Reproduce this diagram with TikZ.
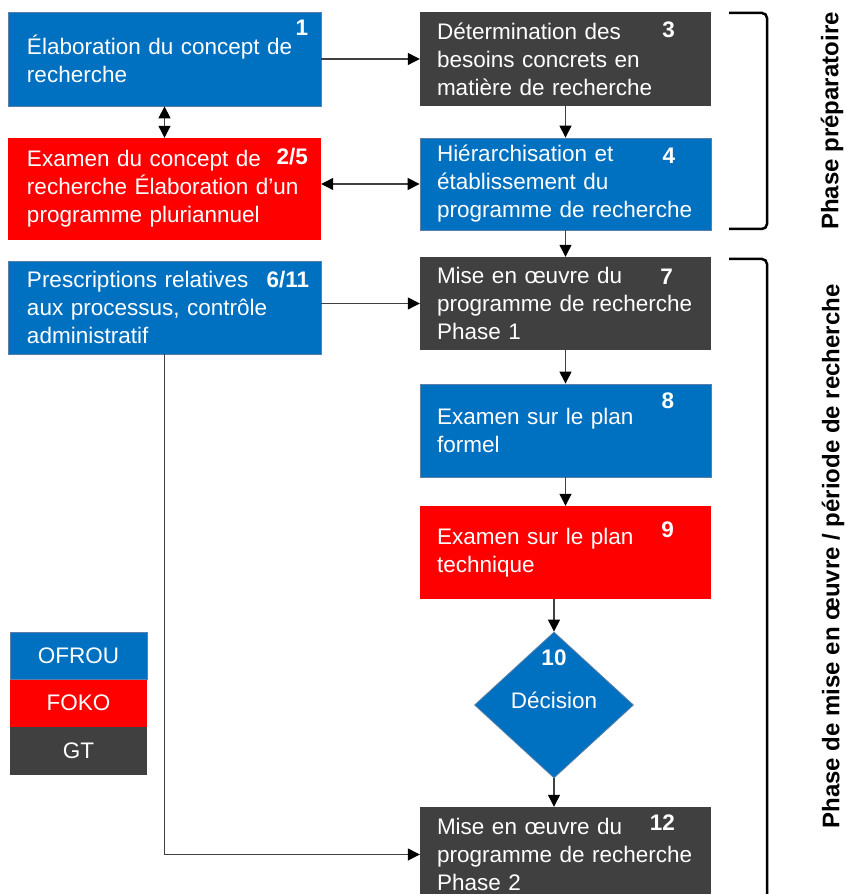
\documentclass[tikz,border=0pt]{standalone}
\usepackage{fontspec}
\setmainfont{Liberation Sans}
\usetikzlibrary{arrows.meta,shapes.geometric}
\definecolor{ofrou}{HTML}{0070C0}
\definecolor{foko}{HTML}{FF0000}
\definecolor{gt}{HTML}{404040}
\definecolor{bordure}{HTML}{5B7FA8}
\newcommand\boxfont{\fontsize{22.5}{28}\selectfont}
\tikzset{
   lbox/.style={rectangle, text width=275pt, inner xsep=19pt, inner ysep=0pt, align=left, text=white, font=\boxfont},
   rbox/.style={rectangle, text width=257pt, inner xsep=17pt, inner ysep=0pt, align=left, text=white, font=\boxfont},
   bleu/.style={fill=ofrou, draw=bordure, line width=0.8pt},
   rouge/.style={fill=foko},
   gris/.style={fill=gt},
   num/.style={inner sep=0pt, anchor=north east, text=white, font=\boxfont\bfseries},
   pointe/.tip={Triangle[length=12pt,width=12pt,color=black]},
   conn/.style={draw=black!75, line width=1.2pt, -pointe},
   conn2/.style={draw=black!75, line width=1.2pt, pointe-pointe},
   legende/.style={rectangle, minimum width=137pt, minimum height=47pt, inner sep=0pt, text=white, font=\boxfont},
   crochet/.style={line width=2.5pt, rounded corners=5pt},
   phase/.style={rotate=90, inner sep=0pt, font=\fontsize{24}{28}\selectfont\bfseries}
}
\begin{document}
\begin{tikzpicture}[x=1pt,y=1pt]
   \useasboundingbox (0,0) rectangle (846,894);
   \clip (0,0) rectangle (846,894);

   \node[lbox, bleu, minimum height=94pt] (b1) at (164.5,835) {Élaboration du concept de\\recherche};
   \node[rbox, gris, minimum height=94pt] (b3) at (565.5,835) {Détermination des\\besoins concrets en\\matière de recherche};
   \node[lbox, rouge, minimum height=102pt] (b25) at (164.5,705) {Examen du concept de\\recherche Élaboration d’un\\programme pluriannuel};
   \node[rbox, bleu, minimum height=92pt] (b4) at (565.5,710) {Hiérarchisation et\\établissement du\\programme de recherche};
   \node[lbox, bleu, minimum height=93pt] (b611) at (164.5,586.5) {Prescriptions relatives\\aux processus, contrôle\\administratif};
   \node[rbox, gris, minimum height=93pt] (b7) at (565.5,590.5) {Mise en œuvre du\\programme de recherche\\Phase 1};
   \node[rbox, bleu, minimum height=93pt] (b8) at (565.5,463.5) {Examen sur le plan\\formel};
   \node[rbox, rouge, minimum height=93pt] (b9) at (565.5,341.5) {Examen sur le plan\\technique};
   \node[diamond, bleu, minimum width=159pt, minimum height=146pt, inner sep=0pt] (dec) at (554,189) {};
   \node[text=white, font=\boxfont] (dect) at ([yshift=5pt]dec.center) {Décision};
   \node[rbox, gris, minimum height=95pt] (b12) at (565.5,39.5) {Mise en œuvre du\\programme de recherche\\Phase 2};

   \node[num] (n1) at ([shift={(-13,-8)}]b1.north east) {1};
   \node[num] (n25) at ([shift={(-13,-10)}]b25.north east) {2/5};
   \node[num] (n611) at ([shift={(-12,-10)}]b611.north east) {6/11};
   \node[num] (n3) at ([shift={(-36,-10)}]b3.north east) {3};
   \node[num] (n4) at ([shift={(-36,-10)}]b4.north east) {4};
   \node[num] (n7) at ([shift={(-38,-12)}]b7.north east) {7};
   \node[num] (n8) at ([shift={(-37,-9)}]b8.north east) {8};
   \node[num] (n9) at ([shift={(-37,-16)}]b9.north east) {9};
   \node[num, anchor=north] (n10) at ([yshift=-18pt]dec.north) {10};
   \node[num] (n12) at ([shift={(-36,-8)}]b12.north east) {12};

   \node[legende, bleu] (leg1) at (78.5,238.5) {OFROU};
   \node[legende, rouge, anchor=north] (leg2) at (leg1.south) {FOKO};
   \node[legende, gris, anchor=north, minimum height=48pt] (leg3) at (leg2.south) {GT};

   \draw[conn] (b1.east) -- (b3.west);
   \draw[conn2] (b1.south) -- (b25.north);
   \draw[conn2] (b25.east |- b4.west) -- (b4.west);
   \draw[conn] (b3.south) -- (b4.north);
   \draw[conn] (b4.south) -- (b7.north);
   \draw[conn] (b611.east |- b7.west) -- (b7.west);
   \draw[conn] (b7.south) -- (b8.north);
   \draw[conn] (b8.south) -- (b9.north);
   \draw[conn] (b9.south -| dec.north) -- (dec.north);
   \draw[conn] (dec.south) -- (b12.north -| dec.south);
   \draw[conn] (b611.south) |- (b12.west);

   \draw[crochet] (729,881) -- (767,881) -- (767,665) -- (729,665);
   \draw[crochet] (729,635) -- (767,635) -- (767,-10);
   \node[phase] (ph1) at (832,773) {Phase préparatoire};
   \node[phase] (ph2) at (833,337.5) {Phase de mise en œuvre / période de recherche};
\end{tikzpicture}
\end{document}
